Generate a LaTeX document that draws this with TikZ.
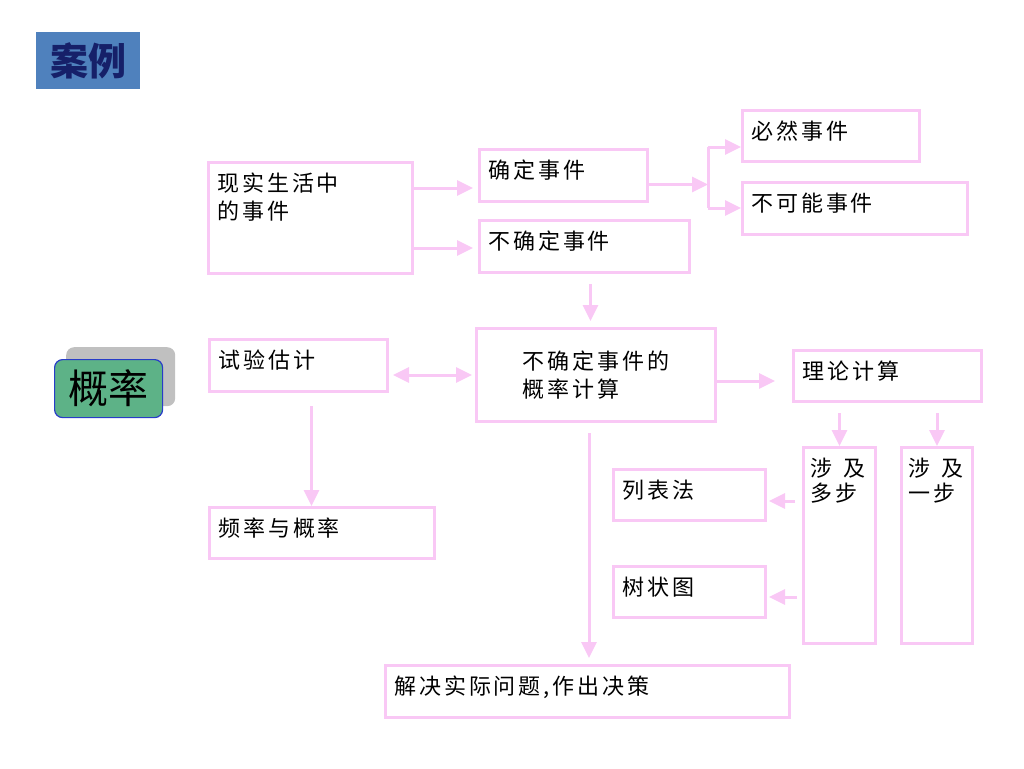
\documentclass[tikz,border=0pt]{standalone}
\usepackage{fontspec}
\usepackage{tikz}
\usetikzlibrary{arrows.meta}
\newfontfamily\cjk[LetterSpace=13]{Noto Sans CJK SC}
\newfontfamily\cjkplain{Noto Sans CJK SC}
\definecolor{boxpink}{RGB}{249,200,245}
\definecolor{titleblue}{RGB}{79,129,189}
\definecolor{titlenavy}{RGB}{22,32,105}
\definecolor{tabgreen}{RGB}{93,178,135}
\definecolor{tabblue}{RGB}{40,60,200}
\definecolor{tabgray}{RGB}{192,192,192}
\tikzset{
	ptip/.tip={Triangle[length=16pt,width=15pt]},
	pbox/.style 2 args={draw=boxpink, line width=3pt, anchor=north west, align=left, inner xsep=9pt, inner ysep=0pt, text width={#1-18pt}, text height=29pt, text depth={#2-29pt}, font=\cjk\fontsize{22}{28}\selectfont},
	cbox/.style={draw=boxpink, line width=3pt, anchor=north west, align=left, minimum width=239pt, minimum height=93pt, font=\cjk\fontsize{22}{28}\selectfont},
	parrow/.style={draw=boxpink, line width=3pt, -ptip},
	pline/.style={draw=boxpink, line width=3pt}
}

\begin{document}
\begin{tikzpicture}[x=1pt,y=1pt]
			%%%%% START %%%%%
			\useasboundingbox (0,0) rectangle (1024,-768);
			
			\node[fill=titleblue, anchor=north west, minimum width=104pt, minimum height=57pt, text=titlenavy, font=\cjkplain\bfseries\fontsize{38}{38}\selectfont] (case) at (36,-32) {案例};
			
			\node[fill=tabgray, rounded corners=8pt, anchor=north west, minimum width=109pt, minimum height=59pt] (probshade) at (66,-347) {};
			\node[fill=tabgreen, draw=tabblue, line width=1.2pt, rounded corners=8pt, anchor=north west, minimum width=108pt, minimum height=58pt, font=\cjkplain\fontsize{40}{40}\selectfont] (prob) at (54,-359) {概率};
			
			\node[pbox={204pt}{111pt}] (real) at (207,-161) {现实生活中\\的事件};
			\node[pbox={168pt}{52pt}] (sure) at (478,-148) {确定事件};
			\node[pbox={210pt}{52pt}] (unsure) at (478,-219) {不确定事件};
			\node[pbox={177pt}{51pt}] (must) at (741,-109) {必然事件};
			\node[pbox={225pt}{52pt}] (impossible) at (741,-181) {不可能事件};
			
			\node[pbox={178pt}{52pt}] (trial) at (208,-338) {试验估计};
			\node[cbox] (calc) at (475,-327) {不确定事件的\\概率计算};
			\node[pbox={188pt}{51pt}] (theory) at (792,-349) {理论计算};
			\node[pbox={225pt}{51pt}] (freq) at (208,-506) {频率与概率};
			
			\node[pbox={76pt}{196pt}, inner xsep=7pt] (multi) at (802,-446) {涉\hspace{11pt}及\\[-3pt]多步};
			\node[pbox={75pt}{196pt}, inner xsep=7pt] (one) at (900,-446) {涉\hspace{11pt}及\\[-3pt]一步};
			\node[pbox={152pt}{51pt}] (list) at (612,-468) {列表法};
			\node[pbox={152pt}{51pt}] (tree) at (612,-565) {树状图};
			
			\node[pbox={404pt}{52pt}] (solve) at (384,-664) {解决实际问题,作出决策};
			
			\coordinate (a1) at ([yshift=30pt]real.east);
			\coordinate (a2) at ([yshift=-30pt]real.east);
			\draw[parrow, shorten >=5pt] (a1) -- (a1 -| sure.west);
			\draw[parrow, shorten >=5pt] (a2) -- (a2 -| unsure.west);
			
			\coordinate (f0) at ([yshift=-9pt]sure.east);
			\coordinate (forkT) at (708,-147);
			\coordinate (forkB) at (708,-208);
			\draw[parrow] (f0) -- (f0 -| forkT);
			\draw[pline] (forkT) -- (forkB);
			\draw[parrow] (forkT) -- (forkT -| must.west);
			\draw[parrow] (forkB) -- (forkB -| impossible.west);
			
			\coordinate (d0) at ([xshift=6pt, yshift=-10pt]unsure.south);
			\draw[parrow, shorten >=6pt] (d0) -- (d0 |- calc.north);
			
			\draw[pline, ptip-ptip, shorten <=4pt, shorten >=3pt] (calc.west -| trial.east) -- (calc.west);
			
			\coordinate (t0) at ([xshift=13pt, yshift=-13pt]trial.south);
			\draw[parrow] (t0) -- (t0 |- freq.north);
			
			\coordinate (c0) at ([yshift=-6pt]calc.east);
			\draw[parrow, shorten >=17pt] (c0) -- (c0 -| theory.west);
			
			\draw[parrow, shorten <=10pt] (multi.north |- theory.south) -- (multi.north);
			\draw[parrow, shorten <=10pt] (one.north |- theory.south) -- (one.north);
			
			\coordinate (l0) at (795,-501);
			\coordinate (r0) at (797,-597);
			\draw[parrow, shorten >=2pt] (l0) -- (l0 -| list.east);
			\draw[parrow, shorten >=2pt] (r0) -- (r0 -| tree.east);
			
			\coordinate (e0) at (589,-433);
			\draw[parrow, shorten >=6pt] (e0) -- (e0 |- solve.north);
			
			%%%%% END %%%%%
\end{tikzpicture}
\end{document}
